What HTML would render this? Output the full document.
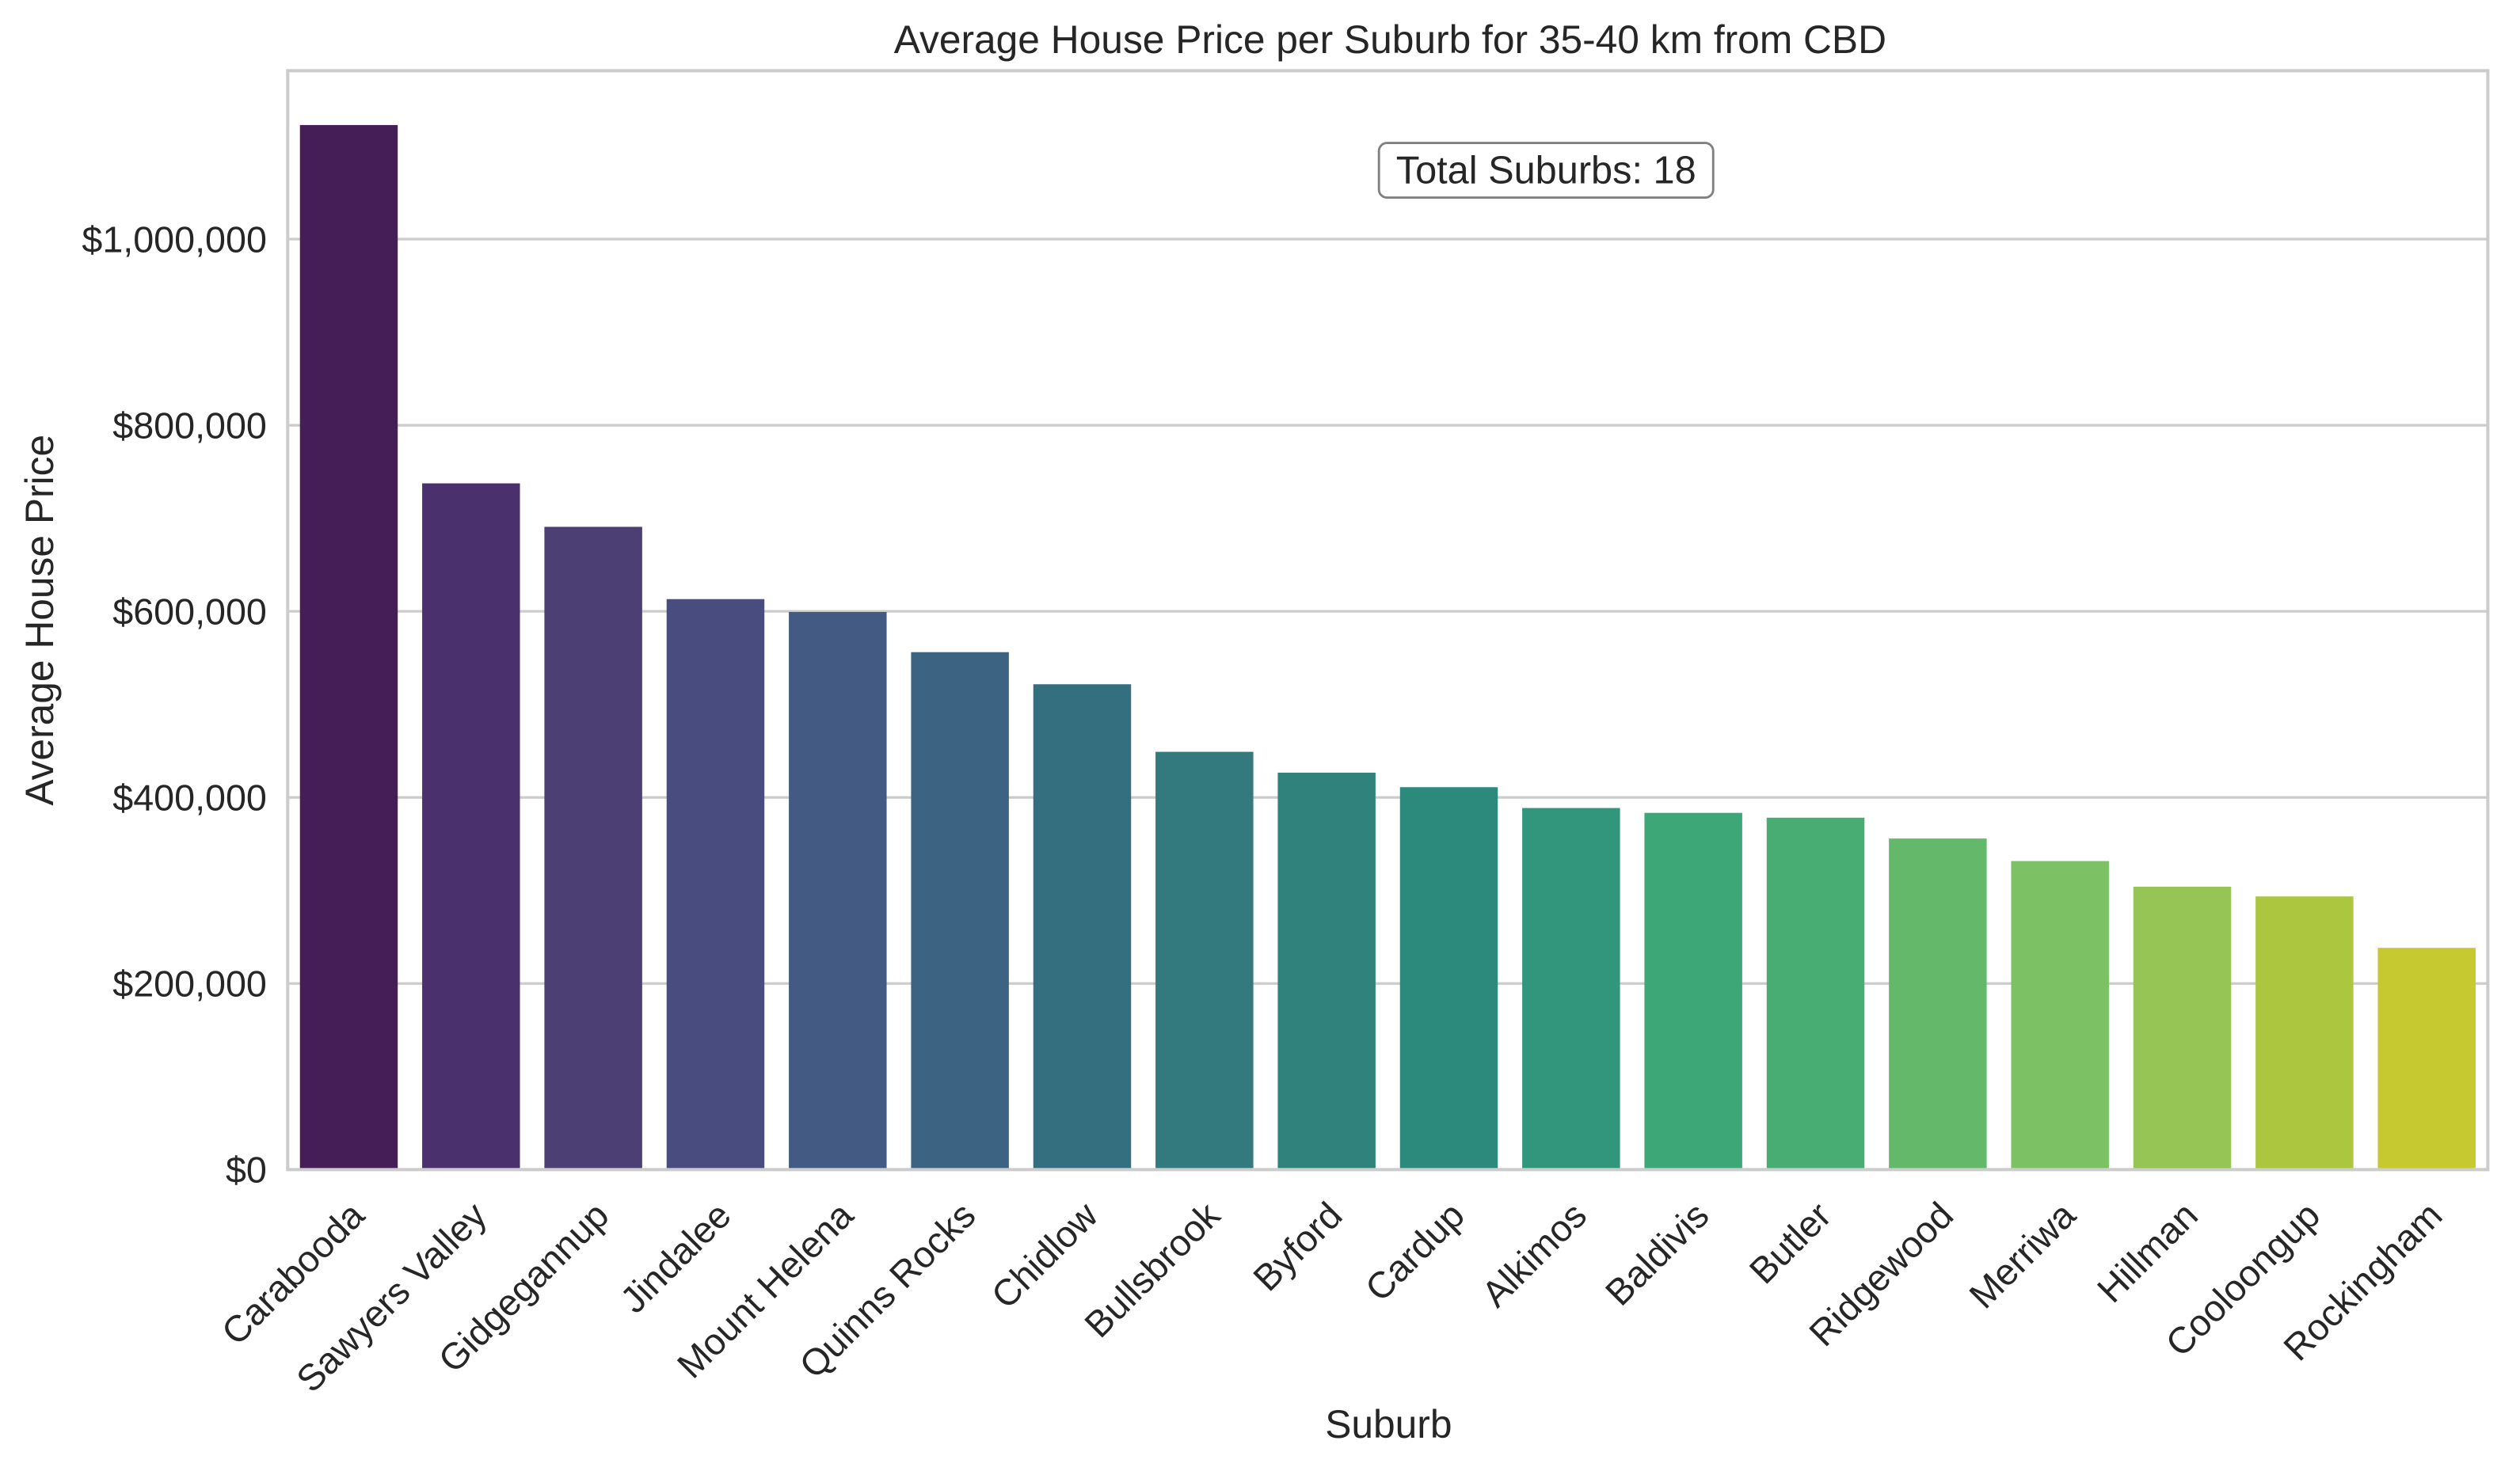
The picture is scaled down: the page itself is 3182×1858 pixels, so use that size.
<!DOCTYPE html>
<html><head><meta charset="utf-8"><style>html,body{margin:0;padding:0;background:#fff}svg{display:block}</style></head>
<body>
<svg id="chart" width="3182" height="1858" viewBox="0 0 1568 915.6" xmlns="http://www.w3.org/2000/svg" font-family="'Liberation Sans', 'DejaVu Sans', sans-serif">
<rect width="1568" height="915.6" fill="#fff"/>
<text x="865" y="33" text-anchor="middle" font-size="24.5" fill="#262626">Average House Price per Suburb for 35-40 km from CBD</text>
<g id="grid"></g>
<g id="bars"></g>
<g id="yticks"></g>
<g id="xticks"></g>
<rect x="179" y="44" width="1369" height="684" fill="none" stroke="#cccccc" stroke-width="2"/>
<g>
<rect x="858" y="89" width="208" height="34" rx="5" fill="#fff" stroke="#808080" stroke-width="1.4"/>
<text x="962" y="114" text-anchor="middle" font-size="24" fill="#262626">Total Suburbs: 18</text>
</g>
<text transform="translate(33,386) rotate(-90)" text-anchor="middle" font-size="24.5" fill="#262626">Average House Price</text>
<text x="864" y="895" text-anchor="middle" font-size="24.5" fill="#262626">Suburb</text>
</svg>
<script>
const categories = ["Carabooda","Sawyers Valley","Gidgegannup","Jindalee","Mount Helena","Quinns Rocks","Chidlow","Bullsbrook","Byford","Cardup","Alkimos","Baldivis","Butler","Ridgewood","Merriwa","Hillman","Cooloongup","Rockingham"];
const prices = [1122600,737500,690800,613100,599300,556100,521600,449000,426600,411000,388600,383400,378200,355800,331600,304000,293600,238300];
const tickValues = [0,200000,400000,600000,800000,1000000];
const tickLabels = ["$0","$200,000","$400,000","$600,000","$800,000","$1,000,000"];
const palette = ["#451e57","#4a306d","#4b3f74","#484c7e","#435b82","#3c6381","#346f7f","#337a7f","#30827c","#2c8a7c","#31967c","#3da778","#48ad72","#63b86a","#7cc163","#96c455","#acc63f","#c7c930"];
const NS="http://www.w3.org/2000/svg";
const X0=179,X1=1548,Y0=728,Y1=44,YMAX=1181000;
function y(v){return Y0-(v/YMAX)*(Y0-Y1);}
const band=(X1-X0)/categories.length;
function xc(i){return X0+band*(i+0.5);}
function mk(t,a){const e=document.createElementNS(NS,t);for(const k in a)e.setAttribute(k,a[k]);return e;}
const grid=document.getElementById('grid'),bars=document.getElementById('bars'),yt=document.getElementById('yticks'),xt=document.getElementById('xticks');
tickValues.forEach((v,i)=>{
  const l=mk('line',{x1:X0,x2:X1,y1:y(v),y2:y(v),stroke:'#cccccc','stroke-width':1.6});
  
  
  grid.appendChild(l);
  const t=mk('text',{x:X0-13,y:y(v)+8,'text-anchor':'end','font-size':23,fill:'#262626'});
  t.textContent=tickLabels[i];
  
  
  yt.appendChild(t);
});
categories.forEach((c,i)=>{
  const w=band*0.8;
  const r=mk('rect',{x:xc(i)-w/2,y:y(prices[i]),width:w,height:Y0-y(prices[i]),fill:palette[i%palette.length]});
  
  
  bars.appendChild(r);
  const t=mk('text',{transform:'translate('+(xc(i)+11)+','+(Y0+30)+') rotate(-45)','text-anchor':'end','font-size':23,fill:'#262626'});
  t.textContent=c;
  
  
  xt.appendChild(t);
});
</script>
</body></html>
